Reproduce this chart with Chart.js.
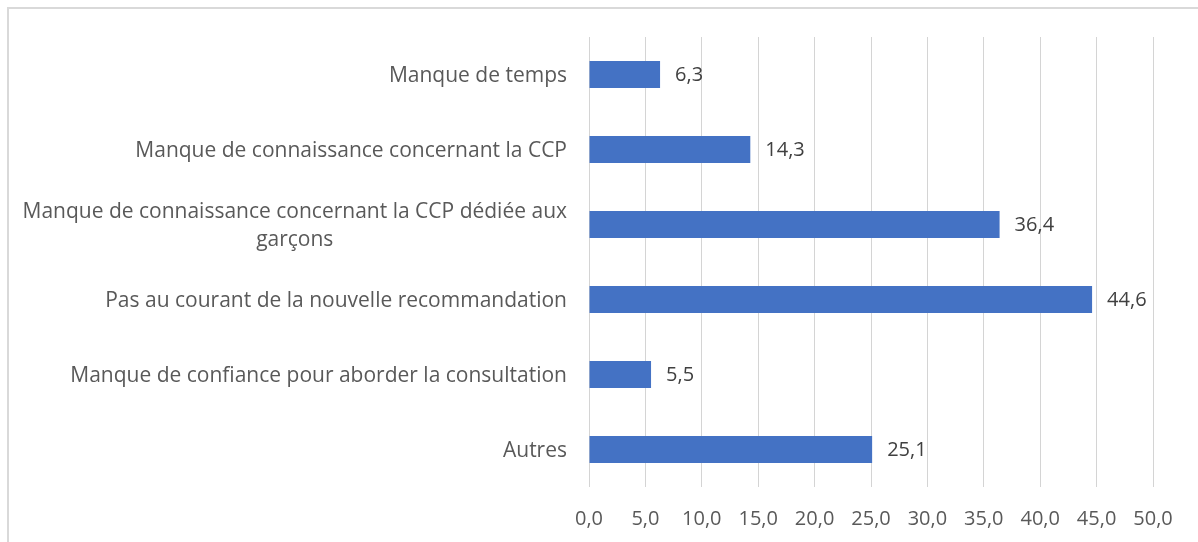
<!DOCTYPE html>
<html lang="fr">
<head>
<meta charset="UTF-8">
<title>Raisons</title>
<script src="https://cdn.jsdelivr.net/npm/chart.js"></script>
<style>
  body { margin: 0; background: #fff; }
  #wrap { width: 1198px; height: 542px; }
</style>
</head>
<body>
<div id="wrap"><canvas id="raisonsChart" width="1198" height="542"></canvas></div>
<script>
  const categories = [
    'Manque de temps',
    'Manque de connaissance concernant la CCP',
    ['Manque de connaissance concernant la CCP dédiée aux', 'garçons'],
    'Pas au courant de la nouvelle recommandation',
    'Manque de confiance pour aborder la consultation',
    'Autres'
  ];
  const values = [6.3, 14.3, 36.4, 44.6, 5.5, 25.1];
  const xTicks = [0, 5, 10, 15, 20, 25, 30, 35, 40, 45, 50];

  const fontFamily = "'Open Sans', sans-serif";
  const fmt = v => v.toFixed(1).replace('.', ',');

  // cadre gris + libellés de catégories (ligne multiple centrée comme Excel)
  const decorPlugin = {
    id: 'decor',
    beforeDraw(chart) {
      const ctx = chart.ctx;
      ctx.save();
      ctx.strokeStyle = '#d9d9d9';
      ctx.lineWidth = 2;
      ctx.beginPath();
      ctx.moveTo(8, 1200);
      ctx.lineTo(8, 8);
      ctx.lineTo(1300, 8);
      ctx.stroke();
      ctx.restore();
    },
    afterDraw(chart) {
      const ctx = chart.ctx;
      const y = chart.scales.y;
      ctx.save();
      ctx.font = '21px ' + fontFamily;
      ctx.fillStyle = '#595959';
      ctx.textBaseline = 'middle';
      const right = chart.chartArea.left - 22;
      categories.forEach((lab, i) => {
        const py = y.getPixelForTick(i) + 2;
        if (Array.isArray(lab)) {
          const widest = Math.max(...lab.map(l => ctx.measureText(l).width));
          const cx = right - widest / 2;
          ctx.textAlign = 'center';
          lab.forEach((l, j) => {
            ctx.fillText(l, cx, py + (j - (lab.length - 1) / 2) * 28);
          });
        } else {
          ctx.textAlign = 'right';
          ctx.fillText(lab, right, py);
        }
      });
      // étiquettes de données
      const meta = chart.getDatasetMeta(0);
      ctx.font = '20px ' + fontFamily;
      ctx.fillStyle = '#404040';
      ctx.textAlign = 'left';
      meta.data.forEach((bar, i) => {
        ctx.fillText(fmt(values[i]), bar.x + 15, bar.y + 1);
      });
      ctx.restore();
    }
  };

  new Chart(document.getElementById('raisonsChart'), {
    type: 'bar',
    data: {
      labels: categories,
      datasets: [{
        data: values,
        backgroundColor: '#4472C4',
        barPercentage: 0.36,
        categoryPercentage: 1
      }]
    },
    options: {
      indexAxis: 'y',
      responsive: false,
      animation: false,
      layout: { padding: { top: 37, right: 45, left: 0, bottom: 0 } },
      plugins: { legend: { display: false }, tooltip: { enabled: false } },
      scales: {
        x: {
          min: 0,
          max: 50,
          afterBuildTicks: s => { s.ticks = xTicks.map(v => ({ value: v })); },
          grid: { color: '#d4d4d4', lineWidth: 1, drawTicks: false },
          border: { display: false },
          ticks: {
            color: '#595959',
            font: { family: fontFamily, size: 20 },
            padding: 20,
            maxRotation: 0,
            callback: v => fmt(v)
          },
          afterFit: s => { s.height = 55; }
        },
        y: {
          grid: { display: false },
          border: { display: false },
          ticks: { display: false },
          afterFit: s => { s.width = 589; }
        }
      }
    },
    plugins: [decorPlugin]
  });
</script>
</body>
</html>
